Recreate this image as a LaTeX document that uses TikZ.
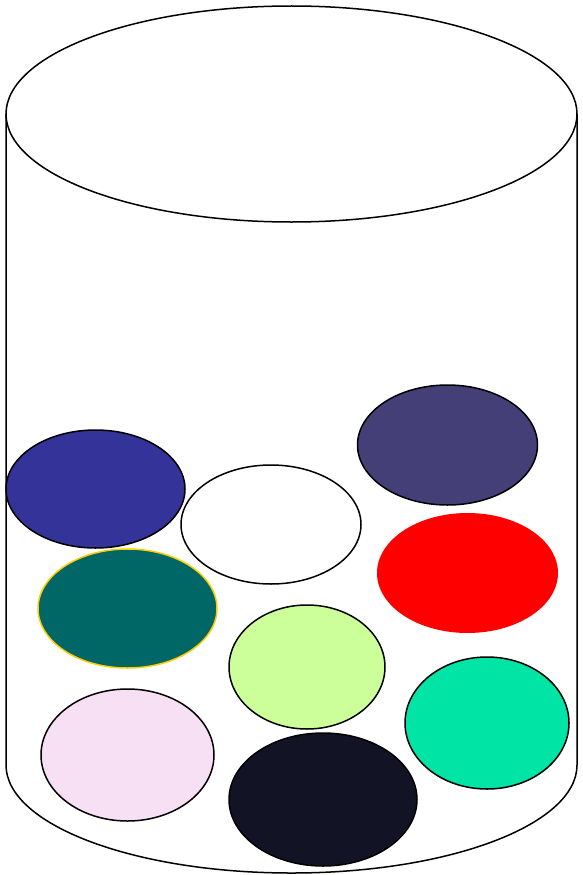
\documentclass[tikz,border=0pt]{standalone}
\usepackage{tikz}
\usetikzlibrary{shapes.geometric}
\definecolor{ballblue}{RGB}{51,51,153}
\definecolor{ballpurple}{RGB}{68,63,119}
\definecolor{ballteal}{RGB}{0,102,102}
\definecolor{ballgold}{RGB}{255,204,0}
\definecolor{ballgreen}{RGB}{204,255,153}
\definecolor{ballmint}{RGB}{0,229,165}
\definecolor{ballpink}{RGB}{248,224,244}
\definecolor{ballnavy}{RGB}{19,19,38}

\begin{document}
\begin{tikzpicture}[
  x=1pt, y=-1pt,
  line width=1.5pt,
  b/.style={ellipse, draw=black, inner sep=0pt}
]
  \useasboundingbox (0,0) rectangle (582,875);
  % jar
  \draw (291.5,114) ellipse [x radius=285.5, y radius=108];
  \draw (6,114) -- (6,765) arc[start angle=180, end angle=360, x radius=285.5, y radius=-108] -- (577,114);

  % balls
  \node[b, fill=ballblue,   minimum width=179pt, minimum height=118pt] (b1) at (95.5,489) {};
  \node[b, fill=white,      minimum width=180pt, minimum height=119pt] (b2) at (271,524.5) {};
  \node[b, fill=ballpurple, minimum width=180pt, minimum height=120pt] (b3) at (447.5,445) {};
  \node[b, fill=red, draw=none, minimum width=181pt, minimum height=120pt] (b4) at (467.5,573) {};
  \node[b, fill=ballteal, draw=ballgold, minimum width=179pt, minimum height=119pt] (b5) at (127.5,608.5) {};
  \node[b, fill=ballgreen,  minimum width=156pt, minimum height=124pt] (b6) at (307,667) {};
  \node[b, fill=ballmint,   minimum width=164pt, minimum height=132pt] (b7) at (487,723) {};
  \node[b, fill=ballpink,   minimum width=173pt, minimum height=132pt] (b8) at (127.5,755) {};
  \node[b, fill=ballnavy,   minimum width=188pt, minimum height=133pt] (b9) at (323,799.5) {};
\end{tikzpicture}
\end{document}
